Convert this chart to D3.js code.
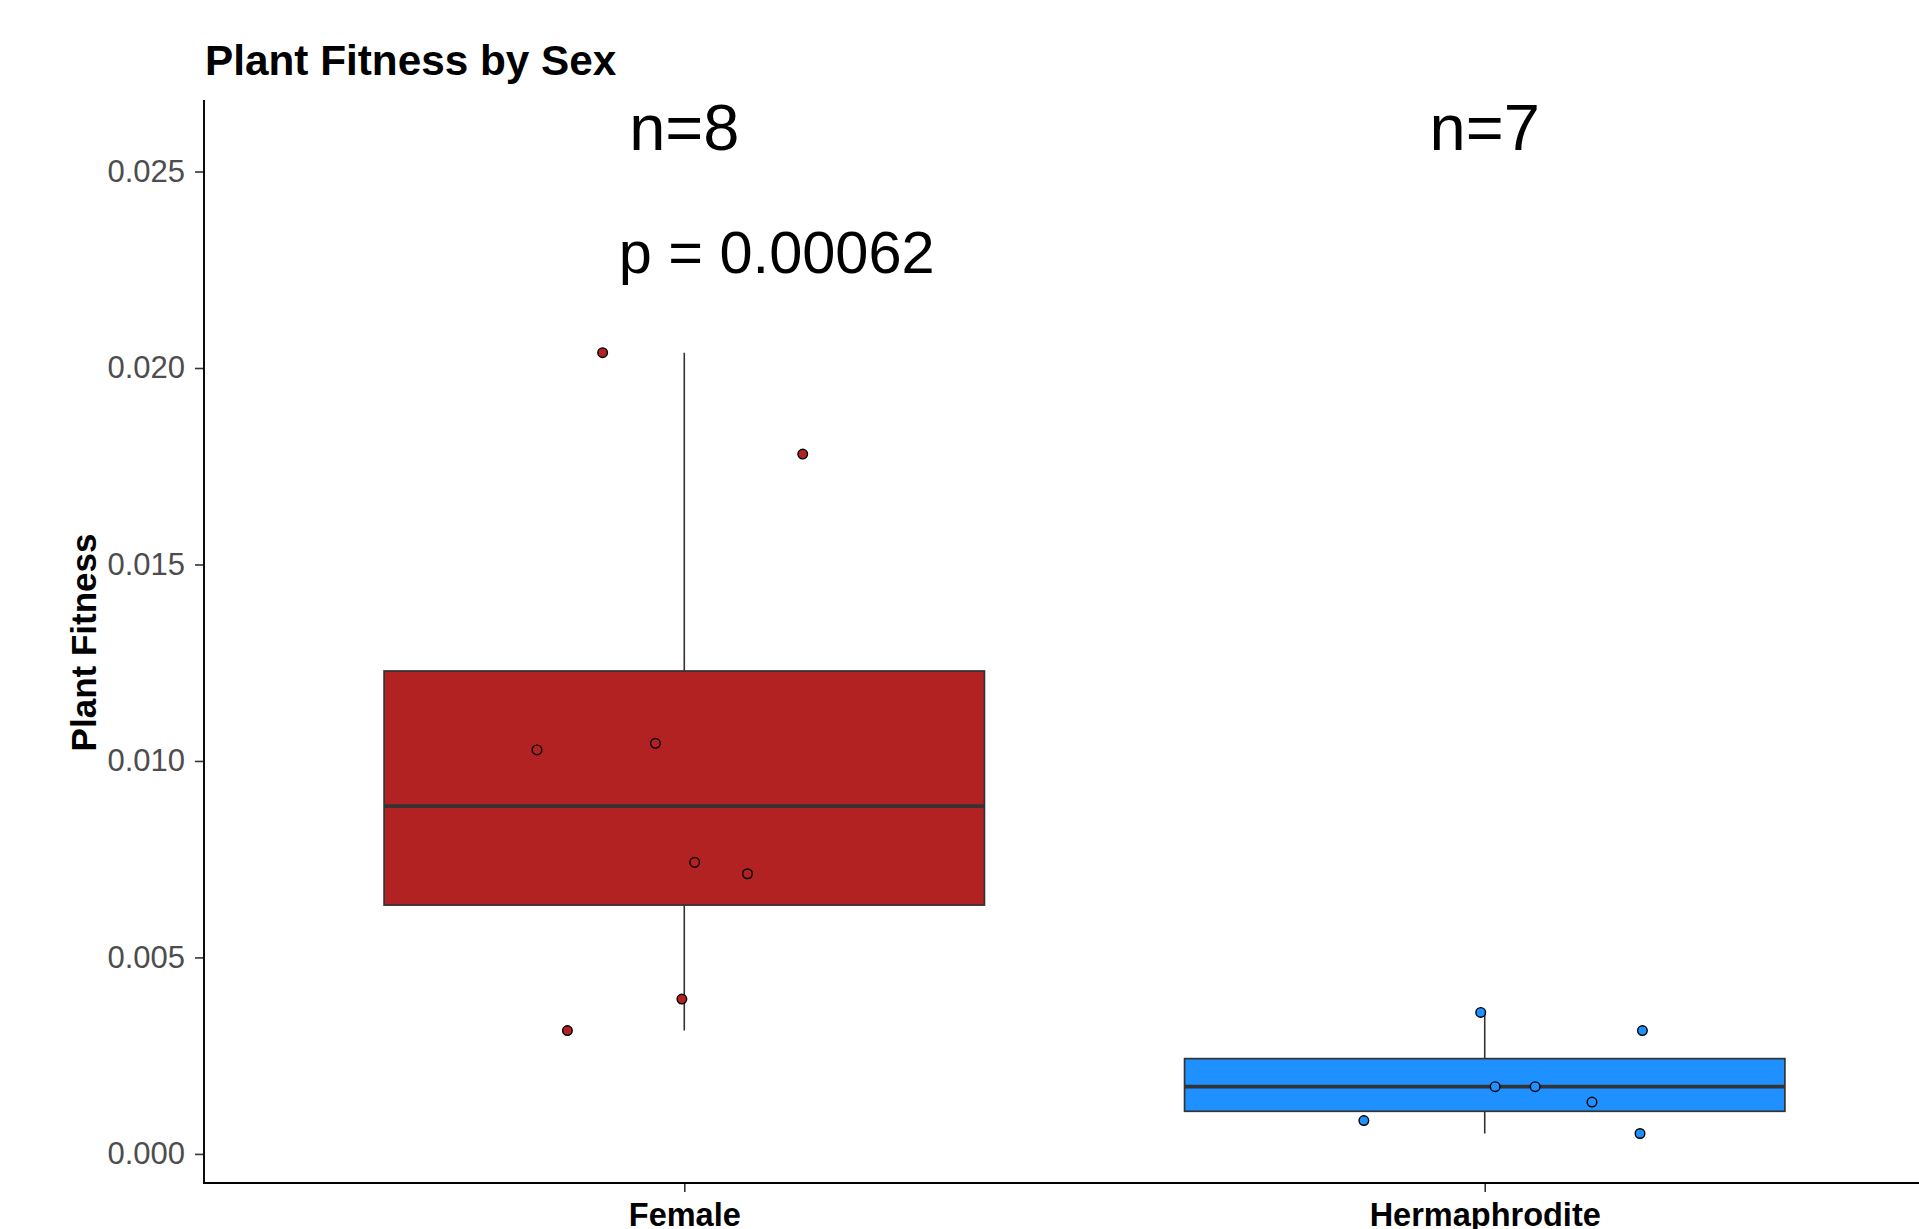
<!DOCTYPE html>
<html>
<head>
<meta charset="utf-8">
<script src="https://cdn.jsdelivr.net/npm/d3@7"></script>
<style>
  html, body { margin: 0; padding: 0; background: #ffffff; }
  svg { display: block; font-family: "Liberation Sans", Arial, sans-serif; }
</style>
</head>
<body>
<svg id="chart" width="1919" height="1229"></svg>
<script>
// ---- data ----
const categories = ["Female", "Hermaphrodite"];
const fillColors = ["#B22222", "#1E90FF"];
const femaleValues = [0.02039, 0.01781, 0.01028, 0.01045, 0.00742, 0.00713, 0.00394, 0.00314];
const femaleJitter = [-0.102, 0.148, -0.184, -0.036, 0.013, 0.079, -0.003, -0.146];
const hermValues = [0.00360, 0.00314, 0.00171, 0.00171, 0.00132, 0.00085, 0.00052];
const hermJitter = [-0.005, 0.197, 0.013, 0.063, 0.134, -0.151, 0.194];
const yTicks = [0.000, 0.005, 0.010, 0.015, 0.020, 0.025];
const nLabels = ["n=8", "n=7"];
const nLabelY = 0.02555;
const pLabel = "p = 0.00062";
const pLabelX = 0.918;
const pLabelY = 0.02242;
const title = "Plant Fitness by Sex";
const yTitle = "Plant Fitness";

const groups = [
  { name: categories[0], values: femaleValues, jitter: femaleJitter, fill: fillColors[0] },
  { name: categories[1], values: hermValues, jitter: hermJitter, fill: fillColors[1] }
];

// ---- layout ----
const svg = d3.select("#chart");
const panel = { left: 204, right: 1965, top: 100, bottom: 1183 };

const x = d3.scaleLinear().domain([0.4, 2.6]).range([panel.left, panel.right]);
const y = d3.scaleLinear().domain([-0.00074, 0.02682]).range([panel.bottom, panel.top]);

const boxHalf = 0.375;

function stats(vals) {
  const s = vals.slice().sort(d3.ascending);
  const q1 = d3.quantile(s, 0.25), med = d3.quantile(s, 0.5), q3 = d3.quantile(s, 0.75);
  const iqr = q3 - q1;
  const lo = d3.min(s.filter(v => v >= q1 - 1.5 * iqr));
  const hi = d3.max(s.filter(v => v <= q3 + 1.5 * iqr));
  return { q1, med, q3, lo, hi };
}

const gBoxes = svg.append("g");
groups.forEach((g, i) => {
  const cx = i + 1;
  const st = stats(g.values);
  const gg = gBoxes.append("g");
  gg.append("line")
    .attr("x1", x(cx)).attr("x2", x(cx))
    .attr("y1", y(st.hi)).attr("y2", y(st.q3))
    .attr("stroke", "#333333").attr("stroke-width", 1.6);
  gg.append("line")
    .attr("x1", x(cx)).attr("x2", x(cx))
    .attr("y1", y(st.q1)).attr("y2", y(st.lo))
    .attr("stroke", "#333333").attr("stroke-width", 1.6);
  gg.append("rect")
    .attr("x", x(cx - boxHalf)).attr("width", x(cx + boxHalf) - x(cx - boxHalf))
    .attr("y", y(st.q3)).attr("height", y(st.q1) - y(st.q3))
    .attr("fill", g.fill).attr("stroke", "#333333").attr("stroke-width", 1.7);
  gg.append("line")
    .attr("x1", x(cx - boxHalf)).attr("x2", x(cx + boxHalf))
    .attr("y1", y(st.med)).attr("y2", y(st.med))
    .attr("stroke", "#333333").attr("stroke-width", 3.8);
});

// points
const gPts = svg.append("g");
groups.forEach((g, i) => {
  gPts.selectAll(null)
    .data(g.values.map((v, k) => ({ v, j: g.jitter[k] })))
    .enter().append("circle")
    .attr("cx", d => x(i + 1 + d.j))
    .attr("cy", d => y(d.v))
    .attr("r", 4.8)
    .attr("fill", g.fill)
    .attr("stroke", "#000000")
    .attr("stroke-width", 1.4);
});

// axes
const yAxis = d3.axisLeft(y).tickValues(yTicks).tickFormat(d3.format(".3f")).tickSize(9).tickPadding(10);
const gy = svg.append("g").attr("transform", `translate(${panel.left},0)`).call(yAxis);
gy.select(".domain").remove();
gy.selectAll(".tick line").attr("stroke", "#333333").attr("stroke-width", 1.6);
gy.selectAll(".tick text").attr("fill", "#4D4D4D").style("font-size", "31px")
  .style("font-family", "'Liberation Sans', Arial, sans-serif");

const xAxis = d3.axisBottom(x).tickValues([1, 2]).tickFormat(d => categories[d - 1]).tickSize(9).tickPadding(11);
const gx = svg.append("g").attr("transform", `translate(0,${panel.bottom})`).call(xAxis);
gx.select(".domain").remove();
gx.selectAll(".tick line").attr("stroke", "#333333").attr("stroke-width", 1.6);
gx.selectAll(".tick text").attr("fill", "#000000").style("font-size", "32.5px").style("font-weight", "bold")
  .style("font-family", "'Liberation Sans', Arial, sans-serif");

// axis lines
svg.append("line")
  .attr("x1", panel.left).attr("x2", panel.left)
  .attr("y1", panel.top).attr("y2", panel.bottom + 1)
  .attr("stroke", "#000000").attr("stroke-width", 1.9);
svg.append("line")
  .attr("x1", panel.left - 1).attr("x2", panel.right)
  .attr("y1", panel.bottom).attr("y2", panel.bottom)
  .attr("stroke", "#000000").attr("stroke-width", 1.9);

// n labels
svg.selectAll(".nlab").data(nLabels).enter().append("text")
  .attr("x", (d, i) => x(i + 1))
  .attr("y", y(nLabelY))
  .attr("text-anchor", "middle")
  .style("font-size", "65px")
  .attr("fill", "#000000")
  .text(d => d);

// p label
svg.append("text")
  .attr("x", x(pLabelX))
  .attr("y", y(pLabelY))
  .attr("text-anchor", "start")
  .style("font-size", "59.5px")
  .attr("fill", "#000000")
  .text(pLabel);

// title
svg.append("text")
  .attr("x", panel.left + 1)
  .attr("y", 75)
  .style("font-size", "42.3px").style("font-weight", "bold")
  .attr("fill", "#000000")
  .text(title);

// y title
svg.append("text")
  .attr("transform", `translate(96,${(panel.top + panel.bottom) / 2 + 1}) rotate(-90)`)
  .attr("text-anchor", "middle")
  .style("font-size", "35px").style("font-weight", "bold")
  .attr("fill", "#000000")
  .text(yTitle);
</script>
</body>
</html>
